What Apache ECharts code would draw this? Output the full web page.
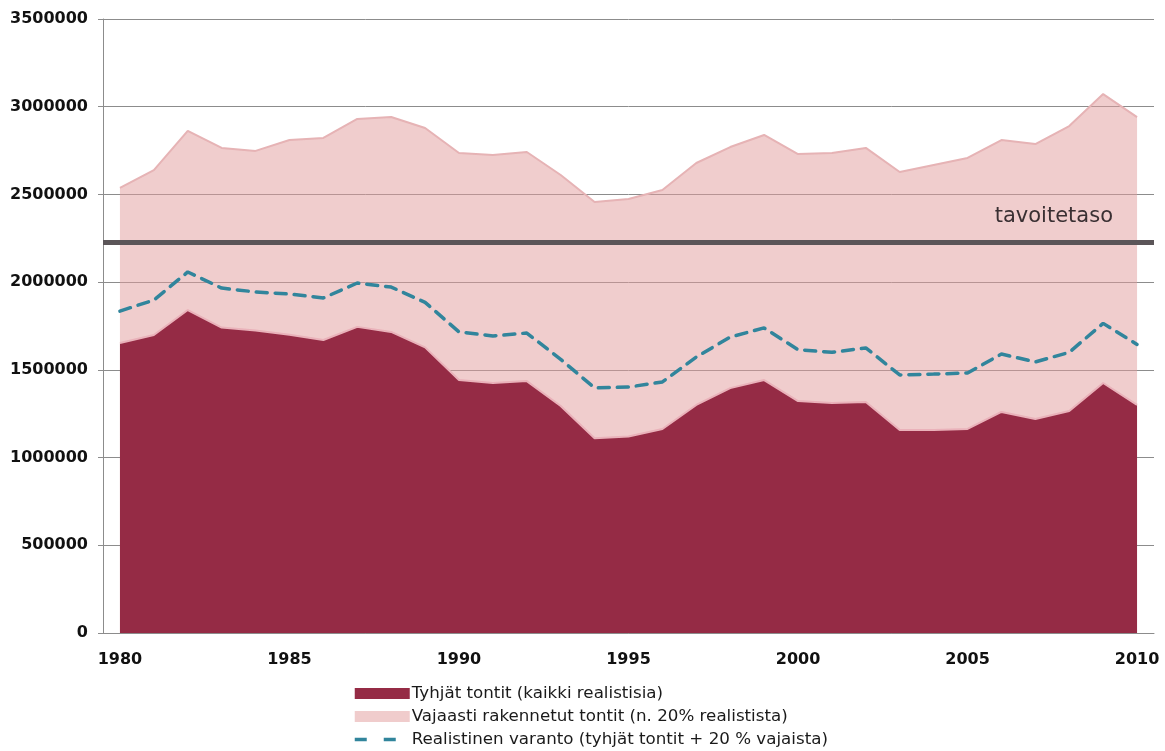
<!DOCTYPE html>
<html>
<head>
<meta charset="utf-8">
<script src="https://cdn.jsdelivr.net/npm/echarts@6/dist/echarts.min.js"></script>
<style>html,body{margin:0;padding:0;background:#fff}#c{width:1165px;height:751px}</style>
</head>
<body>
<div id="c"></div>
<script>
const years = ['1980','1981','1982','1983','1984','1985','1986','1987','1988','1989','1990','1991','1992','1993','1994','1995','1996','1997','1998','1999','2000','2001','2002','2003','2004','2005','2006','2007','2008','2009','2010'];
// Tyhjät tontit (vacant plots)
const tyhjat = [1653000,1699000,1841000,1741000,1725000,1700000,1670000,1745000,1716000,1628000,1442000,1425000,1436000,1294000,1110000,1120000,1163000,1300000,1396000,1442000,1322000,1311000,1317000,1157000,1157000,1163000,1260000,1220000,1265000,1425000,1300000];
// Kokonaistaso (vacant + partially built), read from the top edge
const yhteensa = [2537000,2639000,2862000,2765000,2748000,2810000,2822000,2930000,2941000,2879000,2736000,2725000,2742000,2611000,2457000,2474000,2525000,2679000,2770000,2839000,2730000,2736000,2765000,2628000,2668000,2708000,2810000,2787000,2890000,3072000,2941000];
// Realistinen varanto (dashed line)
const varanto = [1835000,1898000,2058000,1966000,1944000,1932000,1910000,1995000,1972000,1885000,1716000,1693000,1710000,1560000,1397000,1402000,1431000,1573000,1687000,1739000,1615000,1600000,1625000,1471000,1476000,1482000,1590000,1545000,1600000,1765000,1645000];
const tavoitetaso = 2230000;
const yTicks = {min: 0, max: 3500000, interval: 500000};

const vajaat = yhteensa.map((v, i) => v - tyhjat[i]);

const chart = echarts.init(document.getElementById('c'));
const font = 'DejaVu Sans';
chart.setOption({
  animation: false,
  grid: {left: 103, right: 11, top: 19, bottom: 118},
  legend: {
    orient: 'vertical', left: 353, top: 685, padding: 0,
    itemWidth: 55, itemHeight: 11, itemGap: 6,
    textStyle: {fontFamily: font, fontSize: 16.7, color: '#1a1a1a', padding: [0,0,0,-3]},
    data: [
      {name: 'Tyhjät tontit (kaikki realistisia)', icon: 'rect'},
      {name: 'Vajaasti rakennetut tontit (n. 20% realistista)', icon: 'rect'},
      {name: 'Realistinen varanto (tyhjät tontit + 20 % vajaista)', itemStyle: {opacity: 0},
       lineStyle: {type: [12, 17], width: 3.5, cap: 'butt'}}
    ]
  },
  xAxis: {
    type: 'category', data: years, boundaryGap: true,
    axisLine: {lineStyle: {color: '#8c8c8c', width: 1}},
    axisTick: {interval: 0, length: 5, lineStyle: {color: '#8c8c8c'}},
    axisLabel: {interval: 4, margin: 19, fontFamily: font, fontSize: 16, fontWeight: 'bold', color: '#111'},
    splitLine: {show: false}
  },
  yAxis: {
    type: 'value', min: yTicks.min, max: yTicks.max, interval: yTicks.interval,
    axisLine: {show: true, lineStyle: {color: '#8c8c8c', width: 1}},
    axisTick: {show: true, length: 5, lineStyle: {color: '#8c8c8c'}},
    axisLabel: {margin: 15, fontFamily: font, fontSize: 16, fontWeight: 'bold', color: '#111',
      formatter: v => String(v)},
    splitLine: {lineStyle: {color: '#8c8c8c', width: 1}}
  },
  series: [
    {
      name: 'Tyhjät tontit (kaikki realistisia)', type: 'line', stack: 'a',
      data: tyhjat, symbol: 'none',
      itemStyle: {color: '#952b45'},
      lineStyle: {color: '#eab2ba', width: 2},
      areaStyle: {color: '#952b45', opacity: 1}
    },
    {
      name: 'Vajaasti rakennetut tontit (n. 20% realistista)', type: 'line', stack: 'a',
      data: vajaat, symbol: 'none',
      itemStyle: {color: '#f0cccc'},
      lineStyle: {color: '#e6b3b5', width: 2},
      areaStyle: {color: 'rgb(226,156,156)', opacity: 0.5}
    },
    {
      name: 'Realistinen varanto (tyhjät tontit + 20 % vajaista)', type: 'line',
      data: varanto, symbol: 'none', z: 5,
      itemStyle: {color: '#31859c'},
      lineStyle: {color: '#31859c', width: 3.5, type: [11, 8], cap: 'round'},
      markLine: {
        silent: true, symbol: 'none',
        data: [{yAxis: tavoitetaso}],
        lineStyle: {color: '#5b5558', width: 5, type: 'solid'},
        label: {
          show: true, position: 'insideEndTop', formatter: 'tavoitetaso',
          fontFamily: font, fontSize: 21, color: '#3a3033',
          padding: [0, 36, 10, 0]
        }
      }
    }
  ]
});
</script>
</body>
</html>
